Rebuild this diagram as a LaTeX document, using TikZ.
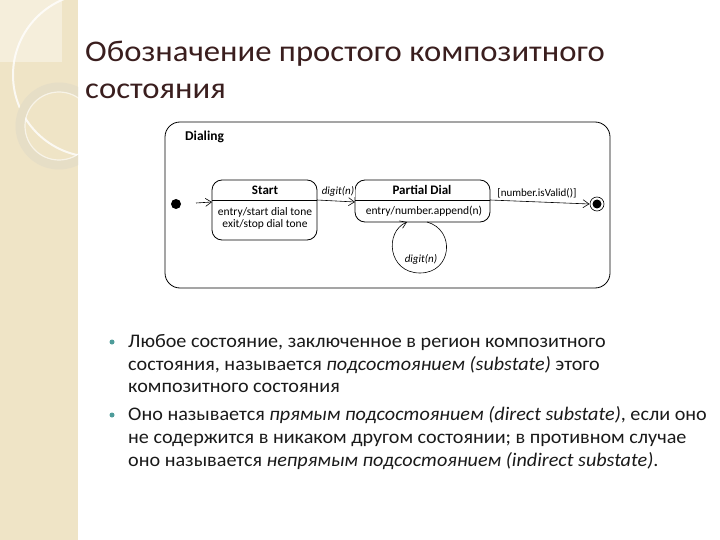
\documentclass[tikz,border=0pt]{standalone}
\usepackage{fontspec}
\setmainfont{Carlito}
\newfontfamily\titlefont{Carlito}[FakeStretch=1.09]
\newfontfamily\bodyfont{Carlito}[FakeStretch=1.05]
\usetikzlibrary{arrows.meta}
\definecolor{band}{HTML}{EFE4C6}
\definecolor{bandlight}{HTML}{F5EEDB}
\definecolor{ringc}{HTML}{E6DEC6}
\definecolor{titlec}{HTML}{3A1E1E}
\definecolor{bulletc}{HTML}{4E9C9A}
\definecolor{bodyc}{HTML}{1A1A1A}
\tikzset{
  state/.style={draw, line width=0.8pt, rounded corners=10pt},
  trans/.style={draw, line width=0.6pt, -{Straight Barb[length=6pt,width=8pt]}},
  lab/.style={font=\fontsize{11}{12}\selectfont\itshape, inner sep=1pt, fill=white},
  stitle/.style={font=\fontsize{13}{14}\selectfont\bfseries, inner sep=0pt},
  sbody/.style={font=\fontsize{11.5}{12}\selectfont, inner sep=0pt, align=center},
  titletext/.style={anchor=base west, inner sep=0pt, font=\titlefont\fontsize{30}{34}\selectfont, text=titlec},
  bodytext/.style={anchor=base west, inner sep=0pt, font=\bodyfont\fontsize{19.2}{22}\selectfont, text=bodyc},
  bul/.style={circle, fill=bulletc, inner sep=0pt, minimum size=5pt}
}
\begin{document}
\begin{tikzpicture}[x=1pt,y=-1pt]
\useasboundingbox (0,0) rectangle (720,540);
\fill[white] (0,0) rectangle (720,540);
% left band
\fill[band] (0,0) rectangle (78,540);
\begin{scope}
\clip (0,0) rectangle (78,540);
\fill[bandlight] (0,0) rectangle (62,62);
\draw[white, opacity=0.8, line width=2pt] (95,75) circle (82);
\draw[ringc, line width=9pt] (59,126) circle (39);
\draw[white, opacity=0.6, line width=1.2pt] (59,126) circle (34);
\end{scope}
% title
\node[titletext] (t1) at (85,62) {Обозначение простого композитного};
\node[titletext] (t2) at (85,99) {состояния};
% composite state
\draw[state, rounded corners=15pt] (165,122) rectangle (610,288);
\node[anchor=base west, font=\fontsize{13.5}{15}\selectfont\bfseries, inner sep=0pt] (dl) at (185,141) {Dialing};
% initial
\fill (176,204) circle (5);
\coordinate (init) at (196,203);
% Start state
\draw[state] (212,180) rectangle (317,240);
\draw[line width=0.8pt] (212,200) -- (317,200);
\coordinate (startW) at (212,202);
\coordinate (startE) at (317,200);
\node[stitle] (sttl) at (265,190) {Start};
\node[sbody] (stb) at (265,218) {entry/start dial tone\\exit/stop dial tone};
% Partial dial
\draw[state] (355,180) rectangle (490,222);
\draw[line width=0.8pt] (355,200) -- (490,200);
\coordinate (pdW) at (355,202);
\coordinate (pdE) at (490,200);
\node[stitle] (pdt) at (422,190) {Partial Dial};
\node[sbody] (pdb) at (424,211) {entry/number.append(n)};
% final
\draw[line width=0.6pt] (597,204) circle (7);
\fill (597,204) circle (4.5);
\coordinate (fin) at (589.5,204);
% transitions
\draw[trans] (init) -- (startW);
\draw[trans] (startE) -- (pdW);
\node[lab] (l1) at (338,191) {digit(n)};
\draw[trans] (pdE) -- (fin);
\node[lab, font=\fontsize{11}{12}\selectfont] (l2) at (537,193) {[number.isValid()]};
% self loop
\coordinate (la) at (427,222);
\coordinate (lb) at (407,222);
\draw[trans] (la) .. controls (456,230) and (452,273) .. (420,273) .. controls (388,273) and (384,232) .. (lb);
\node[lab] (l3) at (421,259) {digit(n)};
% bullets
\node[bul] (b1) at (112,342) {};
\node[bodytext] (p1) at (128,347) {Любое состояние, заключенное в регион композитного};
\node[bodytext] (p2) at (128,370) {состояния, называется \textit{подсостоянием (substate)} этого};
\node[bodytext] (p3) at (128,392) {композитного состояния};
\node[bul] (b2) at (112,415) {};
\node[bodytext] (p4) at (128,420) {Оно называется \textit{прямым подсостоянием (direct substate)}, если оно};
\node[bodytext] (p5) at (128,443) {не содержится в никаком другом состоянии; в противном случае};
\node[bodytext] (p6) at (128,466) {оно называется \textit{непрямым подсостоянием (indirect substate)}.};
\end{tikzpicture}
\end{document}
